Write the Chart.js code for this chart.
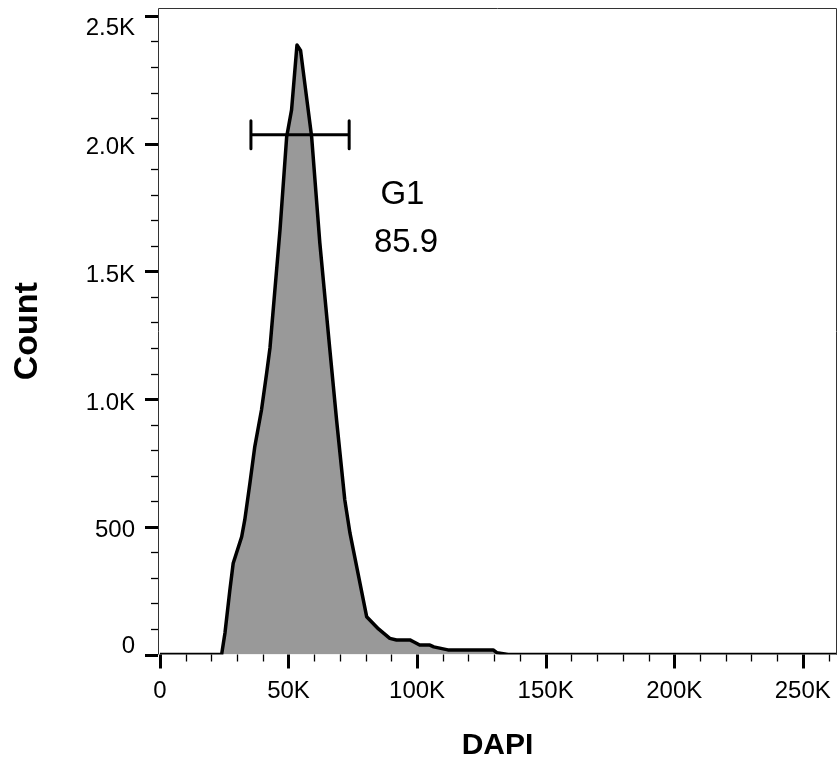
<!DOCTYPE html>
<html>
<head>
<meta charset="utf-8">
<script src="https://cdn.jsdelivr.net/npm/chart.js@4/dist/chart.umd.min.js"></script>
<style>
html, body { margin: 0; padding: 0; background: #fff; }
</style>
</head>
<body>
<canvas id="dapiHist" width="838" height="764"></canvas>
<script>
// DAPI channel values (x) and event counts (y)
const dapi = [0, 24000, 25300, 27200, 28500, 31800, 33000, 35000, 36900, 39500, 41500, 42800, 46700, 49300, 51200,
  53300, 54700, 57000, 59000, 62200, 66100, 68700, 71900, 73900, 80400, 85000, 89400, 92000, 97200, 99000,
  101000, 105000, 106500, 112000, 129600, 131000, 135400, 263300]
const counts = [0, 0, 84, 252, 357, 461, 527, 670, 814, 957, 1101, 1200, 1662, 2027, 2132,
  2386, 2365, 2184, 2027, 1610, 1192, 918, 605, 476, 148, 100, 63, 57, 57, 48,
  37, 37, 30, 18, 18, 7, 0, 0]

const xTickValues = [0, 50000, 100000, 150000, 200000, 250000]
const xTickLabels = ['0', '50K', '100K', '150K', '200K', '250K']
const yTickValues = [0, 500, 1000, 1500, 2000, 2500]
const yTickLabels = ['0', '500', '1.0K', '1.5K', '2.0K', '2.5K']

// gate G1
const gateLow = 35400
const gateHigh = 73600
const gateLevel = 2035
const gateName = 'G1'
const gatePct = '85.9'

const FONT = "'Liberation Sans', Arial, Helvetica, sans-serif"
const TICK_SIZE = 24

const flowDecor = {
    id: 'flowDecor',
    afterDatasetsDraw(chart) {
        const { ctx, chartArea: a, scales: { x, y } } = chart
        ctx.save()
        // thin frame
        ctx.strokeStyle = '#333'
        ctx.lineWidth = 1
        ctx.beginPath()
        ctx.moveTo(a.left + 0.5, a.bottom)
        ctx.lineTo(a.left + 0.5, a.top + 0.5)
        ctx.lineTo(a.right - 0.5, a.top + 0.5)
        ctx.lineTo(a.right - 0.5, a.bottom)
        ctx.stroke()

        // tick marks, major every 500 / 50K, minor every 100 / 10K
        ctx.strokeStyle = '#000'
        for (let v = 0; v <= 2500; v += 100) {
            const py = Math.round(y.getPixelForValue(v)) + 0.5
            const major = v % 500 === 0
            ctx.lineWidth = major ? 3 : 1.3
            ctx.beginPath()
            ctx.moveTo(a.left - (major ? 13 : 7), py)
            ctx.lineTo(a.left, py)
            ctx.stroke()
        }
        for (let v = 0; v <= 260000; v += 10000) {
            const px = Math.round(x.getPixelForValue(v)) + 0.5
            const major = v % 50000 === 0
            ctx.lineWidth = major ? 3 : 1.3
            ctx.beginPath()
            ctx.moveTo(px, a.bottom)
            ctx.lineTo(px, a.bottom + (major ? 14 : 7))
            ctx.stroke()
        }

        // gate bar
        const gx1 = x.getPixelForValue(gateLow)
        const gx2 = x.getPixelForValue(gateHigh)
        const gy = y.getPixelForValue(gateLevel)
        ctx.lineWidth = 3
        ctx.lineCap = 'round'
        ctx.beginPath()
        ctx.moveTo(gx1, gy); ctx.lineTo(gx2, gy)
        ctx.moveTo(gx1, gy - 14); ctx.lineTo(gx1, gy + 14)
        ctx.moveTo(gx2, gy - 14); ctx.lineTo(gx2, gy + 14)
        ctx.stroke()

        // gate label
        ctx.fillStyle = '#000'
        ctx.font = '33px ' + FONT
        ctx.textAlign = 'center'
        ctx.textBaseline = 'middle'
        ctx.fillText(gateName, x.getPixelForValue(94300), y.getPixelForValue(1800))
        ctx.fillText(gatePct, x.getPixelForValue(95700), y.getPixelForValue(1612))
        ctx.restore()
    }
}

const dapiHist = new Chart(
    document.getElementById('dapiHist'),
    {
        type: 'line',
        data: {
            datasets: [{
                label: 'DAPI',
                data: dapi.map((v, i) => ({ x: v, y: counts[i] })),
                borderColor: '#000',
                backgroundColor: '#999999',
                borderWidth: 3.5,
                borderJoinStyle: 'round',
                fill: 'origin',
                tension: 0,
                pointRadius: 0,
            }]
        },
        options: {
            responsive: false,
            animation: false,
            devicePixelRatio: 1,
            layout: {
                padding: { top: 8, right: 1, left: 0, bottom: 0 }
            },
            scales: {
                x: {
                    type: 'linear',
                    min: -740,
                    max: 263300,
                    afterFit: (s) => {
                        s.height = 109.5
                        s.paddingLeft = 0
                        s.paddingRight = 0
                    },
                    afterBuildTicks: (s) => { s.ticks = xTickValues.map(v => ({ value: v })) },
                    grid: { display: false, drawTicks: false },
                    border: { display: false },
                    ticks: {
                        autoSkip: false,
                        maxRotation: 0,
                        padding: 22,
                        color: '#000',
                        font: { family: FONT, size: TICK_SIZE },
                        callback: (v) => xTickLabels[xTickValues.indexOf(v)],
                    },
                    title: {
                        display: true,
                        text: 'DAPI',
                        color: '#000',
                        font: { family: FONT, size: 30, weight: 'bold' },
                        padding: { top: 0, bottom: 0 },
                    },
                },
                y: {
                    type: 'linear',
                    min: 0,
                    max: 2531,
                    afterFit: (s) => {
                        s.width = 158
                        s.paddingTop = 0
                        s.paddingBottom = 0
                    },
                    afterBuildTicks: (s) => { s.ticks = yTickValues.map(v => ({ value: v })) },
                    grid: { display: false, drawTicks: false },
                    border: { display: false },
                    ticks: {
                        autoSkip: false,
                        padding: 23,
                        labelOffset: 4,
                        color: '#000',
                        font: (c) => {
                            const v = c.tick ? c.tick.value : null
                            if (v === 2500) return { family: FONT, size: TICK_SIZE, lineHeight: '16px' }
                            if (v === 0) return { family: FONT, size: TICK_SIZE, lineHeight: '24px' }
                            return { family: FONT, size: TICK_SIZE }
                        },
                        callback: (v) => {
                            const lab = yTickLabels[yTickValues.indexOf(v)]
                            if (v === 2500) return ['', lab]
                            if (v === 0) return [lab, '']
                            return lab
                        },
                    },
                    title: {
                        display: true,
                        text: 'Count',
                        color: '#000',
                        font: { family: FONT, size: 34, weight: 'bold' },
                        padding: { top: 7, bottom: 0 },
                    },
                },
            },
            plugins: {
                legend: { display: false },
                tooltip: { enabled: false },
            },
        },
        plugins: [flowDecor]
    }
)
</script>
</body>
</html>
